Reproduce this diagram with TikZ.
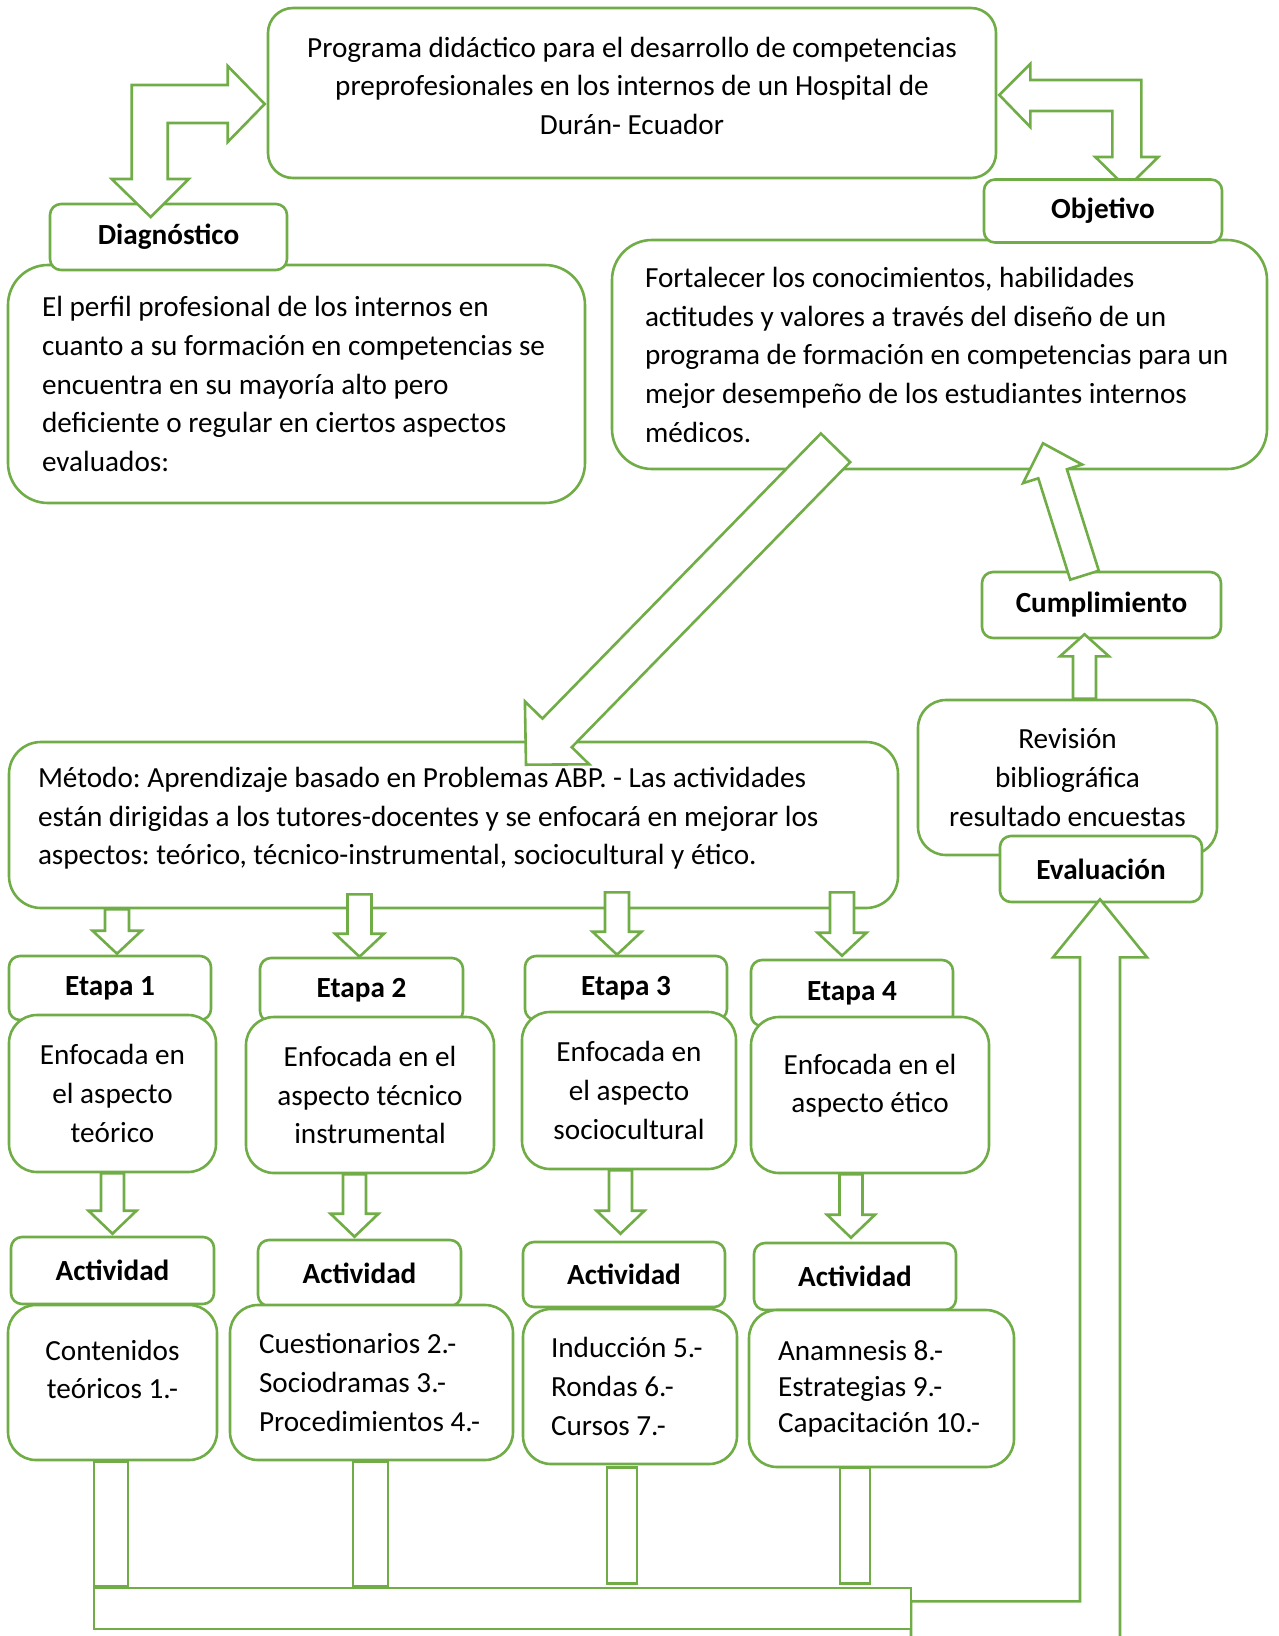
\documentclass[tikz,border=0pt]{standalone}
\usepackage{fontspec}
\setmainfont{Carlito}
\usetikzlibrary{calc}
\definecolor{leafgreen}{HTML}{70AD47}
\newcommand{\diagfontat}[1]{\fontsize{29.2pt}{#1}\selectfont\frenchspacing\spaceskip=0.226em plus 0.05em minus 0.05em\relax}
\newcommand{\diagfont}{\diagfontat{38.6pt}}
% block arrow: from, to, shaft half width, head half width, head length
\newcommand{\fatarrow}[5]{%
  \coordinate (fa-base) at ($#2!#5!#1$);
  \draw[fatshape] ($#1!#3!90:#2$) -- ($(fa-base)!#3!90:#2$) -- ($(fa-base)!#4!90:#2$) -- #2
    -- ($(fa-base)!#4!-90:#2$) -- ($(fa-base)!#3!-90:#2$) -- ($#1!#3!-90:#2$) -- cycle;}

\begin{document}
\begin{tikzpicture}[x=1pt, y=-1pt,
  frame/.style={draw=leafgreen, line width=2.6pt},
  card/.style={frame, fill=white, rounded corners=28pt, inner sep=0pt, align=center, font=\diagfont},
  tag/.style={frame, fill=white, rounded corners=11pt, inner sep=0pt, font=\diagfont\bfseries},
  fatshape/.style={frame, fill=white, line join=miter}]

\useasboundingbox (0,0) rectangle (1278,1636);

% -------------------------
% Top: programme, diagnosis, objective
% -------------------------
\node[card, rounded corners=25pt, minimum width=728pt, minimum height=170pt, text depth=15pt] (title) at (632,93)
  {Programa didáctico para el desarrollo de competencias\\preprofesionales en los internos de un Hospital de\\Durán- Ecuador};

\node[card, rounded corners=40pt, minimum width=577pt, minimum height=238pt,
  align=flush left, text width=509pt, inner xsep=34pt] (diagbox) at (296.5,384)
  {El perfil profesional de los internos en\\cuanto a su formación en competencias se\\encuentra en su mayoría alto pero\\deficiente o regular en ciertos aspectos\\evaluados:};
\node[tag, minimum width=237pt, minimum height=66pt] (diagtag) at (168.5,237) {Diagnóstico};

\node[card, rounded corners=40pt, minimum width=655pt, minimum height=229pt, text depth=154pt,
  align=flush left, text width=589pt, inner xsep=33pt] (objbox) at (939.5,354.5)
  {Fortalecer los conocimientos, habilidades\\actitudes y valores a través del diseño de un\\programa de formación en competencias para un\\mejor desempeño de los estudiantes internos\\médicos.};

% two-way arrow title <-> diagnosis
\draw[fatshape] ($(title.west)+(-2,11)$) -- ++(-37,38) -- ++(0,-19) -- ++(-60,0) -- ++(0,56)
  -- ++(21,0) -- ++(-38,38) -- ++(-39,-38) -- ++(20,0) -- ++(0,-94) -- ++(96,0) -- ++(0,-19) -- cycle;

% two-way arrow title <-> objective
\draw[fatshape] ($(title.east)+(2,2)$) -- ++(31,-31) -- ++(0,16) -- ++(111,0) -- ++(0,77)
  -- ++(17,0) -- ++(-31.5,31) -- ++(-31.5,-31) -- ++(17,0) -- ++(0,-46) -- ++(-82,0) -- ++(0,16) -- cycle;
\node[tag, minimum width=238pt, minimum height=63pt] (objtag) at (1103,211) {Objetivo};

% -------------------------
% Method and stages
% -------------------------
\node[card, rounded corners=32pt, minimum width=889pt, minimum height=166pt, text depth=95pt,
  align=flush left, text width=831pt, inner xsep=29pt] (metodo) at (453.5,825)
  {Método: Aprendizaje basado en Problemas ABP. - Las actividades\\están dirigidas a los tutores-docentes y se enfocará en mejorar los\\aspectos: teórico, técnico-instrumental, sociocultural y ético.};

\node[tag, minimum width=202pt, minimum height=64pt] (e1) at (110,988) {Etapa 1};
\node[tag, minimum width=203pt, minimum height=64pt] (e2) at (361.5,990) {Etapa 2};
\node[tag, minimum width=202pt, minimum height=64pt] (e3) at (626,988) {Etapa 3};
\node[tag, minimum width=202pt, minimum height=66pt] (e4) at (852,993) {Etapa 4};

\node[card, minimum width=207pt, minimum height=157pt] (f1) at (112.5,1093.5) {Enfocada en\\el aspecto\\teórico};
\node[card, minimum width=248pt, minimum height=156pt] (f2) at (370,1095) {Enfocada en el\\aspecto técnico\\instrumental};
\node[card, minimum width=214pt, minimum height=157pt] (f3) at (629,1090.5) {Enfocada en\\el aspecto\\sociocultural};
\node[card, minimum width=238pt, minimum height=156pt, text depth=23pt] (f4) at (870,1095) {Enfocada en el\\aspecto ético};

\node[tag, minimum width=203pt, minimum height=67pt] (a1) at (112.5,1270.5) {Actividad};
\node[tag, minimum width=203pt, minimum height=66pt] (a2) at (359.5,1273) {Actividad};
\node[tag, minimum width=202pt, minimum height=65pt] (a3) at (624,1274.5) {Actividad};
\node[tag, minimum width=202pt, minimum height=67pt] (a4) at (855,1276.5) {Actividad};

\node[card, minimum width=209pt, minimum height=155pt, text depth=26pt] (b1) at (112.5,1382.5) {Contenidos\\teóricos 1.-};
\node[card, minimum width=283pt, minimum height=155pt, align=flush left, text width=225pt, inner xsep=29pt] (b2) at (371.5,1382.5)
  {Cuestionarios~2.-\\Sociodramas~3.-\\Procedimientos~4.-};
\node[card, minimum width=214pt, minimum height=155pt, align=flush left, text width=158pt, inner xsep=28pt] (b3) at (630,1386.5)
  {Inducción~5.-\\Rondas~6.-\\Cursos~7.-};
\node[card, minimum width=265pt, minimum height=157pt, align=flush left, text width=207pt, inner xsep=29pt,
  font=\diagfontat{36pt}] (b4) at (881.5,1388.5)
  {Anamnesis~8.-\\Estrategias~9.-\\Capacitación~10.-};

% -------------------------
% Evaluation side
% -------------------------
\node[tag, minimum width=239pt, minimum height=66pt] (cumptag) at (1101.5,605) {Cumplimiento};
\node[card, minimum width=299pt, minimum height=155pt] (revbox) at (1067.5,777.5) {Revisión\\bibliográfica\\resultado encuestas};
\node[tag, minimum width=202pt, minimum height=66pt] (evaltag) at (1101,869) {Evaluación};

% -------------------------
% Block arrows
% -------------------------
\coordinate (m1) at ($(metodo.south -| e1.north)+(7,0)$);
\coordinate (t1) at ($(e1.north)+(7,-1)$);
\coordinate (m2) at ($(metodo.south -| e2.north)+(-2,-15)$);
\coordinate (t2) at ($(e2.north)+(-2,0)$);
\coordinate (m3) at ($(metodo.south -| e3.north)+(-9,-17)$);
\coordinate (t3) at ($(e3.north)+(-9,0)$);
\coordinate (m4) at ($(metodo.south -| e4.north)+(-10,-17)$);
\coordinate (t4) at ($(e4.north)+(-10,-3)$);
\fatarrow{(m1)}{(t1)}{12pt}{24.5pt}{23pt}
\fatarrow{(m2)}{(t2)}{12pt}{24.5pt}{23pt}
\fatarrow{(m3)}{(t3)}{12pt}{24.5pt}{23pt}
\fatarrow{(m4)}{(t4)}{12pt}{24.5pt}{23pt}

\coordinate (s1) at (f1.south);
\coordinate (u1) at ($(f1.south |- a1.north)+(0,-2)$);
\coordinate (s2) at ($(f2.south)+(-15.5,0)$);
\coordinate (u2) at ($(f2.south |- a2.north)+(-15.5,-2)$);
\coordinate (s3) at ($(f3.south)+(-8.5,0)$);
\coordinate (u3) at ($(f3.south |- a3.north)+(-8.5,-7)$);
\coordinate (s4) at ($(f4.south)+(-19,0)$);
\coordinate (u4) at ($(f4.south |- a4.north)+(-19,-4)$);
\fatarrow{(s1)}{(u1)}{11.5pt}{24pt}{23pt}
\fatarrow{(s2)}{(u2)}{11.5pt}{24pt}{23pt}
\fatarrow{(s3)}{(u3)}{11.5pt}{24pt}{23pt}
\fatarrow{(s4)}{(u4)}{11.5pt}{24pt}{23pt}

% objective -> method
\coordinate (o0) at ($(objbox.south)+(-104,-22.5)$);
\coordinate (o1) at ($(metodo.north)+(72.5,24)$);
\fatarrow{(o0)}{(o1)}{20.5pt}{45pt}{44.5pt}

% revision -> fulfilment -> objective
\coordinate (r0) at ($(revbox.north)+(17,0)$);
\coordinate (r1) at ($(cumptag.south -| r0)+(0,-5)$);
\fatarrow{(r0)}{(r1)}{11.5pt}{24.5pt}{22pt}
\coordinate (c0) at ($(cumptag.north)+(-17,4.5)$);
\coordinate (c1) at ($(objbox.south)+(103.5,-27)$);
\fatarrow{(c0)}{(c1)}{15pt}{31pt}{32pt}

% activities -> bar -> evaluation
\draw[fatshape] ($(evaltag.south)+(-1,-4)$) -- ++(47,58) -- ++(-27,0) -- ++(0,704) -- ++(-209,0)
  -- ++(0,-60) -- ++(169,0) -- ++(0,-644) -- ++(-27,0) -- cycle;
\node[frame, fill=white, inner sep=0pt, minimum width=817pt, minimum height=41pt] (bar) at (502.5,1608.5) {};
\draw[frame, fill=white] ($(b1.south)+(-18.5,0)$) rectangle ($(b1.south |- bar.north)+(15.5,0)$);
\draw[frame, fill=white] ($(b2.south)+(-18.5,0)$) rectangle ($(b2.south |- bar.north)+(16.5,0)$);
\draw[frame, fill=white] ($(b3.south)+(-23,2)$) rectangle ($(b3.south |- bar.north)+(7,-3)$);
\draw[frame, fill=white] ($(b4.south)+(-41.5,-1)$) rectangle ($(b4.south |- bar.north)+(-11.5,-3)$);

\end{tikzpicture}
\end{document}
